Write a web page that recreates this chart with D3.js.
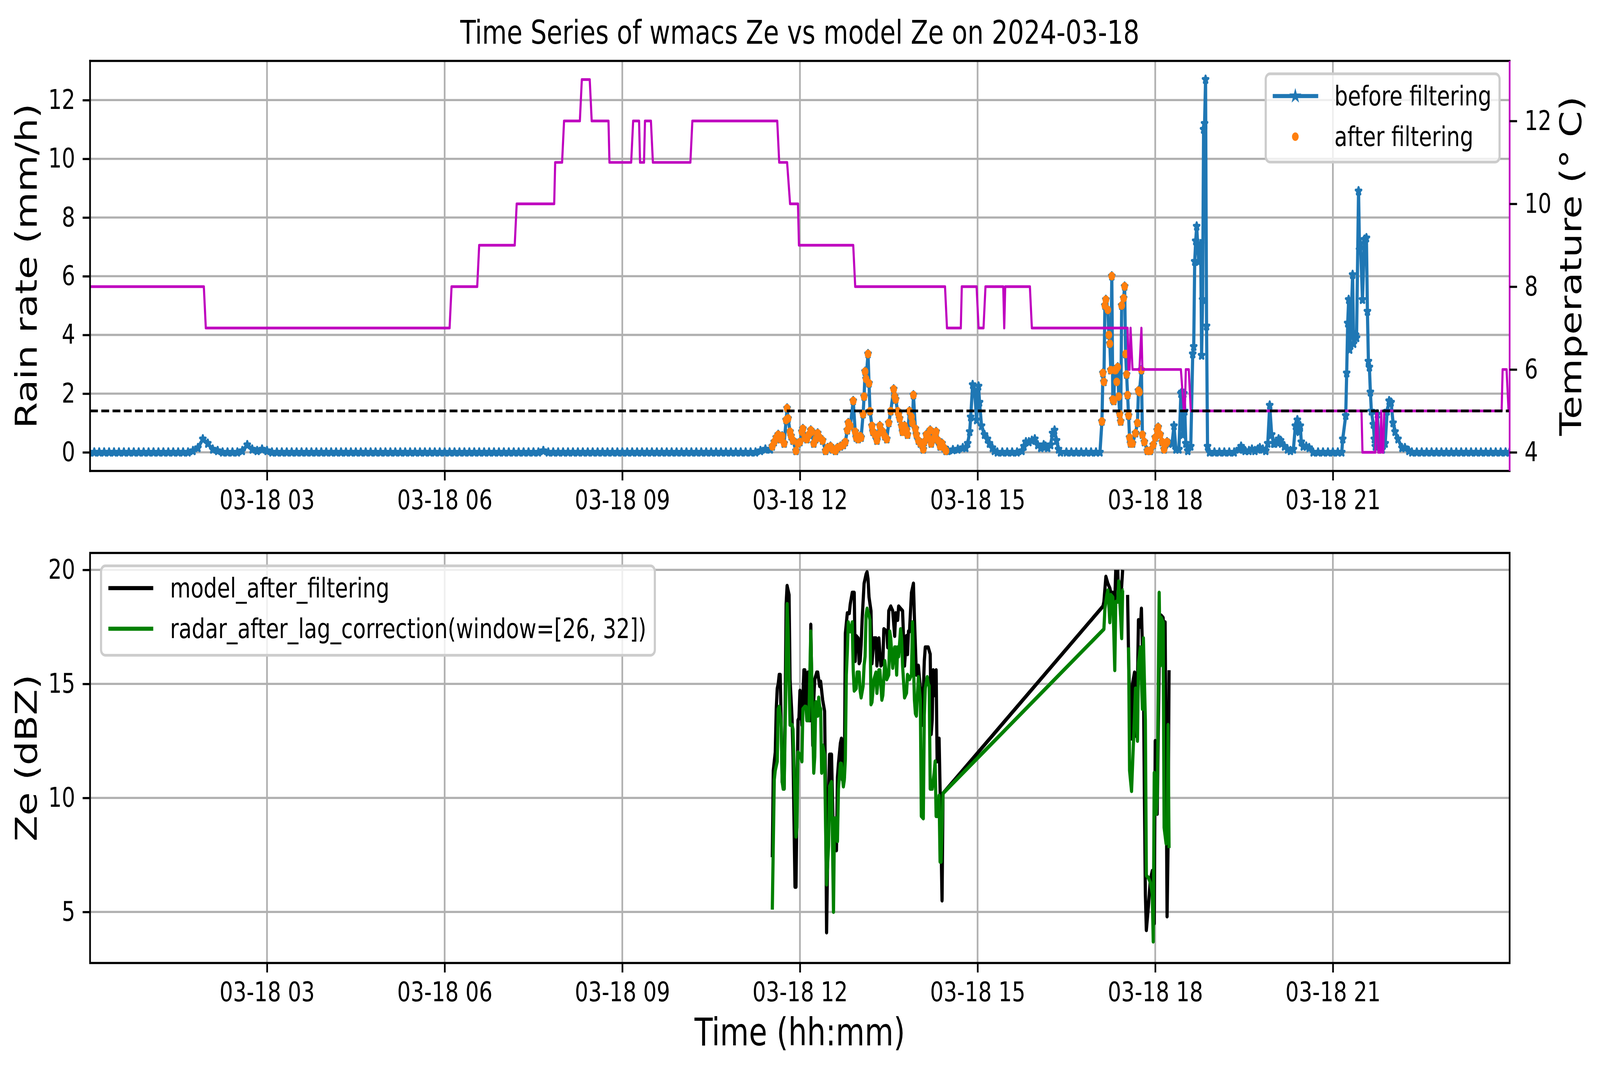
<!DOCTYPE html>
<html>
<head>
<meta charset="utf-8">
<script src="https://cdn.jsdelivr.net/npm/d3@7"></script>
<style>
  html, body { margin: 0; padding: 0; background: #fff; overflow: hidden; }
  svg { display: block; }
</style>
</head>
<body>
<div id="chart"></div>
<script>
const day = "2024-03-18";
const xStart = "00:00:43", xEnd = "23:59:06";

const xTicks = ["03:00", "06:00", "09:00", "12:00", "15:00", "18:00", "21:00"];
const rainTicks = [0, 2, 4, 6, 8, 10, 12];
const tempTicks = [4, 6, 8, 10, 12];
const zeTicks = [5, 10, 15, 20];

// rain rate (mm/h), one value every 5 minutes from 00:00 to 11:25
const rainEarlyStart = "00:00";
const rainEarly = [
  0, 0, 0, 0, 0, 0, 0, 0, 0, 0, 0, 0,
  0, 0, 0, 0, 0, 0, 0, 0, 0, 0.05, 0.15, 0.45,
  0.3, 0.1, 0.05, 0, 0, 0, 0, 0.05, 0.25, 0.1, 0.05, 0.1,
  0.05, 0, 0, 0, 0, 0, 0, 0, 0, 0, 0, 0,
  0, 0, 0, 0, 0, 0, 0, 0, 0, 0, 0, 0,
  0, 0, 0, 0, 0, 0, 0, 0, 0, 0, 0, 0,
  0, 0, 0, 0, 0, 0, 0, 0, 0, 0, 0, 0,
  0, 0, 0, 0, 0, 0, 0, 0, 0.05, 0, 0, 0,
  0, 0, 0, 0, 0, 0, 0, 0, 0, 0, 0, 0,
  0, 0, 0, 0, 0, 0, 0, 0, 0, 0, 0, 0,
  0, 0, 0, 0, 0, 0, 0, 0, 0, 0, 0, 0,
  0, 0, 0, 0, 0.05, 0.1
];

// rain rate (mm/h) from 11:30 on
const rainLate = [
  ["11:30", 0.1], ["11:32", 0.2], ["11:34", 0.35], ["11:36", 0.5], ["11:38", 0.6], ["11:40", 0.45],
  ["11:42", 0.55], ["11:44", 0.3], ["11:46", 1.1], ["11:47", 1.5], ["11:48", 1.15], ["11:50", 0.7],
  ["11:51", 0.55], ["11:53", 0.4], ["11:56", 0.05], ["11:58", 0.3], ["12:00", 0.35], ["12:02", 0.7],
  ["12:03", 0.8], ["12:05", 0.5], ["12:07", 0.45], ["12:09", 0.6], ["12:11", 0.75], ["12:12", 0.7],
  ["12:14", 0.3], ["12:16", 0.45], ["12:18", 0.65], ["12:20", 0.5], ["12:23", 0.4], ["12:26", 0.05],
  ["12:28", 0.15], ["12:31", 0.2], ["12:33", 0.1], ["12:36", 0.05], ["12:38", 0.15], ["12:41", 0.2],
  ["12:44", 0.25], ["12:46", 0.35], ["12:48", 0.75], ["12:49", 1.0], ["12:51", 0.9], ["12:54", 1.75],
  ["12:56", 0.7], ["12:57", 0.5], ["12:59", 0.45], ["13:01", 0.55], ["13:02", 0.5], ["13:04", 1.3],
  ["13:05", 1.9], ["13:06", 2.75], ["13:07", 2.5], ["13:09", 3.35], ["13:10", 2.35], ["13:11", 1.4],
  ["13:13", 0.9], ["13:14", 0.7], ["13:16", 0.6], ["13:18", 0.4], ["13:19", 0.6], ["13:21", 0.9],
  ["13:22", 0.7], ["13:24", 0.7], ["13:26", 0.55], ["13:28", 0.45], ["13:30", 1.0], ["13:32", 1.4],
  ["13:35", 2.15], ["13:36", 1.9], ["13:37", 1.8], ["13:39", 1.4], ["13:40", 1.3], ["13:41", 1.15],
  ["13:43", 0.9], ["13:44", 0.7], ["13:46", 0.9], ["13:48", 0.75], ["13:49", 0.6], ["13:51", 1.4],
  ["13:53", 1.2], ["13:54", 1.0], ["13:55", 1.95], ["13:57", 0.8], ["13:58", 0.6], ["14:00", 0.4],
  ["14:02", 0.3], ["14:05", 0.1], ["14:06", 0.35], ["14:08", 0.6], ["14:10", 0.5], ["14:12", 0.75],
  ["14:13", 0.3], ["14:15", 0.45], ["14:17", 0.6], ["14:18", 0.7], ["14:20", 0.4], ["14:22", 0.2],
  ["14:24", 0.3], ["14:26", 0.15], ["14:28", 0.05], ["14:30", 0.05], ["14:35", 0.08], ["14:40", 0.1],
  ["14:45", 0.15], ["14:48", 0.15], ["14:50", 0.3], ["14:52", 0.7], ["14:53", 1.2], ["14:55", 2.3],
  ["14:57", 2.1], ["14:59", 1.1], ["15:01", 2.25], ["15:02", 1.7], ["15:04", 0.9], ["15:07", 0.6],
  ["15:10", 0.45], ["15:12", 0.3], ["15:15", 0.15], ["15:17", 0.05], ["15:20", 0], ["15:25", 0],
  ["15:30", 0], ["15:35", 0], ["15:40", 0], ["15:45", 0.05], ["15:47", 0.2], ["15:49", 0.35],
  ["15:52", 0.35], ["15:55", 0.4], ["15:58", 0.45], ["16:01", 0.25], ["16:04", 0.15], ["16:07", 0.25],
  ["16:09", 0.2], ["16:11", 0.15], ["16:14", 0.25], ["16:16", 0.65], ["16:18", 0.75], ["16:20", 0.4],
  ["16:22", 0.1], ["16:24", 0], ["16:30", 0], ["16:35", 0], ["16:40", 0], ["16:45", 0],
  ["16:50", 0], ["16:55", 0], ["17:00", 0], ["17:04", 0], ["17:06", 1.05], ["17:07", 2.7],
  ["17:08", 2.4], ["17:09", 5.0], ["17:10", 5.2], ["17:12", 4.85], ["17:13", 4.0], ["17:14", 3.7],
  ["17:15", 2.8], ["17:16", 6.0], ["17:17", 1.8], ["17:18", 1.75], ["17:19", 2.8], ["17:20", 2.8],
  ["17:21", 2.4], ["17:22", 2.9], ["17:23", 1.9], ["17:24", 1.3], ["17:25", 1.05], ["17:26", 5.0],
  ["17:28", 5.25], ["17:29", 5.65], ["17:30", 3.35], ["17:31", 2.65], ["17:32", 1.95], ["17:33", 1.25],
  ["17:34", 0.5], ["17:35", 0.3], ["17:37", 0.3], ["17:40", 0.65], ["17:42", 1.0], ["17:43", 2.1],
  ["17:44", 2.05], ["17:46", 2.8], ["17:47", 0.6], ["17:49", 0.35], ["17:52", 0.05], ["17:55", 0.05],
  ["17:58", 0.25], ["18:00", 0.5], ["18:02", 0.75], ["18:03", 0.85], ["18:05", 0.6], ["18:07", 0.35],
  ["18:09", 0.1], ["18:11", 0.3], ["18:12", 0.35], ["18:14", 0.3], ["18:17", 0.3], ["18:19", 0.9],
  ["18:21", 0.1], ["18:24", 0.1], ["18:26", 2.0], ["18:27", 2.05], ["18:28", 0.6], ["18:29", 2.0],
  ["18:30", 1.4], ["18:31", 0.3], ["18:33", 0.05], ["18:36", 0.2], ["18:38", 3.35], ["18:39", 3.6],
  ["18:40", 6.5], ["18:41", 7.2], ["18:42", 7.7], ["18:44", 6.5], ["18:45", 7.0], ["18:46", 7.1],
  ["18:47", 3.3], ["18:48", 5.2], ["18:49", 11.0], ["18:50", 11.2], ["18:51", 12.7], ["18:52", 4.3],
  ["18:53", 0.2], ["18:55", 0], ["19:00", 0], ["19:05", 0], ["19:10", 0], ["19:15", 0],
  ["19:20", 0], ["19:25", 0.1], ["19:27", 0.2], ["19:29", 0.1], ["19:31", 0.05], ["19:35", 0.05],
  ["19:38", 0.1], ["19:41", 0.05], ["19:44", 0.1], ["19:46", 0.15], ["19:49", 0.1], ["19:52", 0.05],
  ["19:54", 0.3], ["19:56", 1.6], ["19:58", 0.6], ["20:00", 0.3], ["20:01", 0.3], ["20:03", 0.35],
  ["20:05", 0.45], ["20:07", 0.4], ["20:08", 0.3], ["20:11", 0.2], ["20:14", 0.1], ["20:17", 0.05],
  ["20:20", 0.1], ["20:22", 0.9], ["20:24", 1.1], ["20:25", 0.75], ["20:26", 0.7], ["20:27", 0.9],
  ["20:28", 0.35], ["20:30", 0.2], ["20:33", 0.2], ["20:36", 0.15], ["20:40", 0], ["20:45", 0],
  ["20:50", 0], ["20:55", 0], ["21:00", 0], ["21:05", 0], ["21:09", 0], ["21:10", 0.45],
  ["21:13", 1.25], ["21:14", 2.7], ["21:15", 4.4], ["21:16", 5.2], ["21:17", 3.5], ["21:18", 4.0],
  ["21:20", 6.05], ["21:21", 3.7], ["21:23", 4.0], ["21:24", 3.9], ["21:26", 8.9], ["21:27", 6.9],
  ["21:28", 7.1], ["21:30", 5.2], ["21:32", 7.25], ["21:34", 7.3], ["21:35", 4.8], ["21:36", 3.1],
  ["21:37", 2.9], ["21:38", 2.05], ["21:39", 1.4], ["21:41", 0.95], ["21:42", 0.45], ["21:43", 0.2],
  ["21:45", 1.3], ["21:47", 0.2], ["21:50", 0.1], ["21:53", 0.3], ["21:55", 1.4], ["21:57", 1.75],
  ["21:59", 1.7], ["22:01", 1.0], ["22:03", 0.7], ["22:06", 0.45], ["22:10", 0.15], ["22:13", 0.15],
  ["22:17", 0.05], ["22:20", 0], ["22:25", 0], ["22:30", 0], ["22:35", 0], ["22:40", 0],
  ["22:45", 0], ["22:50", 0], ["22:55", 0], ["23:00", 0], ["23:05", 0], ["23:10", 0],
  ["23:15", 0], ["23:20", 0], ["23:25", 0], ["23:30", 0], ["23:35", 0], ["23:40", 0],
  ["23:45", 0], ["23:50", 0], ["23:55", 0], ["23:59", 0]
];

// periods kept by the filter (orange points)
const filterWindows = [["11:32", "14:28"], ["17:06", "18:12"]];

// temperature (deg C)
const temperature = [
  ["00:00", 8], ["01:56", 8], ["01:58", 7], ["06:05", 7], ["06:07", 8], ["06:33", 8], ["06:35", 9],
  ["07:11", 9], ["07:13", 10], ["07:51", 10], ["07:52", 11], ["07:59", 11], ["08:01", 12],
  ["08:17", 12], ["08:19", 13], ["08:27", 13], ["08:29", 12], ["08:46", 12], ["08:47", 11],
  ["09:09", 11], ["09:11", 12], ["09:17", 12], ["09:18", 11], ["09:22", 11], ["09:23", 12],
  ["09:29", 12], ["09:31", 11], ["10:09", 11], ["10:11", 12], ["11:37", 12], ["11:39", 11],
  ["11:47", 11], ["11:50", 10], ["11:58", 10], ["11:59", 9], ["12:54", 9], ["12:56", 8],
  ["14:27", 8], ["14:29", 7], ["14:43", 7], ["14:44", 8], ["14:59", 8], ["15:01", 7],
  ["15:06", 7], ["15:08", 8], ["15:26", 8], ["15:27", 7], ["15:28", 8], ["15:53", 8],
  ["15:55", 7], ["17:32", 7], ["17:33", 6], ["17:34", 6], ["17:35", 7], ["17:37", 6],
  ["17:44", 6], ["17:46", 7], ["17:47", 6], ["18:26", 6], ["18:29", 5], ["18:30", 5],
  ["18:31", 6], ["18:34", 6], ["18:36", 5], ["21:29", 5], ["21:30", 4], ["21:43", 4],
  ["21:44", 5], ["21:45", 5], ["21:46", 4], ["21:48", 4], ["21:49", 5], ["21:50", 4],
  ["21:51", 4], ["21:52", 5], ["23:51", 5], ["23:52", 6], ["23:56", 6], ["23:58", 5], ["23:59", 5]
];
const tempReference = 5;

// Ze (dBZ), model after filtering
const modelZe = [
  ["11:32", 7.4], ["11:33", 11.2], ["11:34", 11.6], ["11:35", 12.0], ["11:36", 13.9], ["11:37", 14.8],
  ["11:38", 15.0], ["11:39", 15.4], ["11:40", 15.4], ["11:41", 13.3], ["11:42", 10.7], ["11:44", 10.4],
  ["11:45", 13.9], ["11:46", 18.5], ["11:47", 19.3], ["11:49", 18.9], ["11:50", 15.2], ["11:52", 13.5],
  ["11:53", 11.8], ["11:55", 6.1], ["11:56", 6.1], ["11:58", 13.4], ["11:59", 13.5], ["12:00", 14.7],
  ["12:02", 13.2], ["12:04", 15.6], ["12:05", 15.6], ["12:06", 14.1], ["12:08", 15.5], ["12:09", 14.0],
  ["12:10", 13.4], ["12:11", 17.6], ["12:13", 12.3], ["12:14", 14.3], ["12:15", 15.2], ["12:17", 15.5],
  ["12:18", 15.5], ["12:20", 14.9], ["12:21", 15.1], ["12:23", 14.3], ["12:25", 13.8], ["12:26", 10.2],
  ["12:27", 4.1], ["12:29", 10.2], ["12:30", 11.9], ["12:32", 11.9], ["12:34", 7.9], ["12:35", 7.8],
  ["12:37", 7.7], ["12:38", 10.9], ["12:39", 11.5], ["12:41", 12.4], ["12:42", 12.6], ["12:43", 10.8],
  ["12:45", 10.9], ["12:46", 17.2], ["12:48", 18.1], ["12:50", 18.1], ["12:51", 18.5], ["12:53", 19.0],
  ["12:55", 19.0], ["12:56", 16.0], ["12:57", 17.1], ["12:59", 17.0], ["13:00", 15.9], ["13:01", 16.0],
  ["13:02", 16.7], ["13:03", 17.8], ["13:05", 19.4], ["13:07", 19.8], ["13:08", 19.9], ["13:09", 19.6],
  ["13:10", 18.8], ["13:12", 18.2], ["13:13", 15.9], ["13:15", 17.0], ["13:17", 17.0], ["13:18", 15.8],
  ["13:20", 17.0], ["13:22", 15.8], ["13:24", 15.9], ["13:25", 17.4], ["13:28", 17.3], ["13:29", 16.6],
  ["13:30", 18.2], ["13:32", 18.4], ["13:34", 18.2], ["13:36", 17.1], ["13:37", 18.1], ["13:39", 17.8],
  ["13:40", 18.4], ["13:42", 18.3], ["13:44", 18.2], ["13:46", 15.8], ["13:48", 17.1], ["13:49", 16.3],
  ["13:50", 17.3], ["13:51", 17.3], ["13:53", 19.0], ["13:55", 19.4], ["13:56", 17.9], ["13:58", 15.4],
  ["14:00", 15.8], ["14:02", 14.8], ["14:04", 13.2], ["14:06", 16.0], ["14:07", 16.6], ["14:10", 16.6],
  ["14:12", 16.3], ["14:13", 12.8], ["14:14", 13.4], ["14:15", 15.6], ["14:16", 14.5], ["14:18", 15.6],
  ["14:19", 11.6], ["14:21", 12.6], ["14:22", 10.4], ["14:24", 5.5], ["14:25", 10.2],
  ["17:07", 18.4], ["17:08", 18.6], ["17:10", 19.7], ["17:12", 19.4], ["17:14", 19.2], ["17:15", 19.0],
  ["17:17", 19.0], ["17:19", 18.6], ["17:20", 20.0], ["17:21", null], ["17:22", 20.0], ["17:23", 18.6],
  ["17:25", 18.6], ["17:27", 20.0], ["17:28", null], ["17:32", 18.9], ["17:33", 16.2], ["17:35", 12.7],
  ["17:36", 12.6], ["17:37", 15.0], ["17:39", 15.5], ["17:41", 12.7], ["17:42", 15.0], ["17:43", 17.8],
  ["17:45", 17.5], ["17:46", 18.3], ["17:47", 16.6], ["17:48", 15.4], ["17:49", 10.2], ["17:50", 5.8],
  ["17:51", 4.2], ["17:53", 5.2], ["17:55", 6.4], ["17:57", 6.8], ["17:59", 4.5], ["18:00", 12.5],
  ["18:01", 9.9], ["18:02", 9.3], ["18:03", 12.7], ["18:04", 15.8], ["18:06", 18.0], ["18:08", 17.9],
  ["18:09", 16.9], ["18:10", 17.7], ["18:11", 11.8], ["18:12", 4.8], ["18:13", 7.9], ["18:14", 15.6]
];

// Ze (dBZ), radar after lag correction
const radarZe = [
  ["11:32", 5.1], ["11:34", 10.8], ["11:35", 11.2], ["11:37", 11.6], ["11:38", 13.9], ["11:39", 14.0],
  ["11:41", 13.3], ["11:42", 10.7], ["11:43", 10.4], ["11:44", 10.4], ["11:46", 15.6], ["11:47", 18.5],
  ["11:48", 17.3], ["11:50", 13.2], ["11:52", 13.2], ["11:53", 13.0], ["11:55", 9.9], ["11:56", 8.3],
  ["11:57", 8.7], ["11:58", 12.0], ["12:00", 11.9], ["12:02", 11.6], ["12:03", 13.9], ["12:05", 14.0],
  ["12:06", 14.0], ["12:07", 13.4], ["12:09", 13.4], ["12:11", 17.3], ["12:14", 11.1], ["12:15", 11.8],
  ["12:16", 14.2], ["12:18", 13.6], ["12:19", 14.4], ["12:20", 14.0], ["12:21", 13.9], ["12:22", 11.1],
  ["12:23", 12.3], ["12:25", 11.9], ["12:26", 8.7], ["12:27", 6.2], ["12:29", 7.9], ["12:30", 10.5],
  ["12:32", 10.7], ["12:33", 8.1], ["12:34", 5.0], ["12:35", 9.1], ["12:37", 9.1], ["12:38", 8.1],
  ["12:39", 10.4], ["12:41", 11.5], ["12:42", 11.5], ["12:44", 10.5], ["12:45", 10.8], ["12:46", 11.7],
  ["12:47", 15.4], ["12:48", 16.4], ["12:49", 17.7], ["12:51", 17.3], ["12:52", 17.3], ["12:53", 17.7],
  ["12:54", 15.6], ["12:55", 14.7], ["12:57", 14.8], ["12:58", 15.5], ["13:00", 15.5], ["13:01", 14.7],
  ["13:02", 14.4], ["13:04", 14.9], ["13:05", 15.8], ["13:06", 16.2], ["13:07", 18.0], ["13:08", 18.3],
  ["13:10", 18.0], ["13:11", 17.8], ["13:12", 14.1], ["13:13", 14.2], ["13:15", 15.2], ["13:17", 15.5],
  ["13:18", 14.6], ["13:20", 15.6], ["13:21", 15.6], ["13:23", 14.3], ["13:24", 14.5], ["13:26", 16.0],
  ["13:28", 15.2], ["13:30", 15.4], ["13:31", 17.3], ["13:32", 17.0], ["13:34", 15.7], ["13:36", 16.6],
  ["13:37", 16.6], ["13:38", 15.4], ["13:39", 16.6], ["13:40", 16.2], ["13:42", 17.4], ["13:43", 17.0],
  ["13:44", 15.8], ["13:46", 14.4], ["13:48", 14.6], ["13:49", 15.4], ["13:51", 15.2], ["13:53", 15.4],
  ["13:54", 17.7], ["13:56", 14.3], ["13:57", 13.7], ["13:58", 13.6], ["14:00", 15.3], ["14:02", 14.3],
  ["14:03", 9.2], ["14:05", 9.1], ["14:06", 13.6], ["14:07", 14.8], ["14:09", 15.3], ["14:10", 15.0],
  ["14:11", 14.9], ["14:12", 10.4], ["14:14", 10.4], ["14:16", 11.1], ["14:17", 11.6], ["14:18", 9.2],
  ["14:20", 9.2], ["14:21", 10.1], ["14:22", 7.2], ["14:23", 7.2], ["14:25", 10.2],
  ["17:08", 17.4], ["17:09", 18.3], ["17:11", 18.9], ["17:12", 19.1], ["17:13", 18.5], ["17:14", 17.7],
  ["17:15", 18.9], ["17:17", 18.8], ["17:18", 17.3], ["17:19", 15.6], ["17:20", 18.6], ["17:22", 18.6],
  ["17:23", 19.5], ["17:25", 17.9], ["17:26", 17.0], ["17:27", 19.1], ["17:28", 19.1], ["17:30", null],
  ["17:33", 16.6], ["17:34", 11.2], ["17:36", 10.3], ["17:38", 12.5], ["17:40", 14.8], ["17:42", 12.5],
  ["17:43", 15.9], ["17:45", 16.6], ["17:47", 13.9], ["17:48", 17.0], ["17:50", 13.4], ["17:51", 6.6],
  ["17:53", 6.5], ["17:55", 6.3], ["17:57", 5.8], ["17:58", 3.7], ["17:59", 11.1], ["18:01", 9.3],
  ["18:02", 10.0], ["18:04", 19.0], ["18:05", 15.8], ["18:06", 17.9], ["18:08", 17.7], ["18:09", 8.7],
  ["18:11", 8.0], ["18:12", 8.1], ["18:13", 13.2], ["18:14", 7.8]
];

// ---- layout (drawn in a 5241 x 2740 frame, fitted to the window) ----
const W = 5241, H = 2740;
const pt = 500 / 72;
const left = 295, right = 4945;
const top1 = 156, bot1 = 1206, top2 = 1416, bot2 = 2466;
const font = "DejaVu Sans";
const tickFont = 10 * pt, labelFont = 14 * pt, titleFont = 12 * pt;
const blue = "#1f77b4", orange = "#ff7f0e", magenta = "#bf00bf", green = "#008000";

const parse = d3.timeParse("%Y-%m-%d %H:%M:%S");
const at = s => parse(day + " " + (s.length === 5 ? s + ":00" : s));

const rain = rainEarly.map((v, i) => ({ t: d3.timeMinute.offset(at(rainEarlyStart), i * 5), v: v }))
  .concat(rainLate.map(d => ({ t: at(d[0]), v: d[1] })));
const afterFilter = rain.filter(d => filterWindows.some(w => d.t >= at(w[0]) && d.t <= at(w[1])));
const temp = temperature.map(d => ({ t: at(d[0]), v: d[1] }));
const model = modelZe.map(d => ({ t: at(d[0]), v: d[1] }));
const radar = radarZe.map(d => ({ t: at(d[0]), v: d[1] }));

const x = d3.scaleTime().domain([at(xStart), at(xEnd)]).range([left, right]);
const yRain = d3.scaleLinear().domain([-0.635, 13.335]).range([bot1, top1]);
const yTemp = d3.scaleLinear().domain([3.55, 13.45]).range([bot1, top1]);
const yZe = d3.scaleLinear().domain([2.76, 20.74]).range([bot2, top2]);

const svg = d3.select("#chart").append("svg")
  .attr("width", window.innerWidth).attr("height", window.innerHeight)
  .attr("viewBox", `0 0 ${W} ${H}`)
  .attr("preserveAspectRatio", "none")
  .attr("font-family", font);
svg.append("rect").attr("width", W).attr("height", H).attr("fill", "#fff");

const defs = svg.append("defs");
defs.append("clipPath").attr("id", "clip1").append("rect")
  .attr("x", left).attr("y", top1).attr("width", right - left).attr("height", bot1 - top1);
defs.append("clipPath").attr("id", "clip2").append("rect")
  .attr("x", left).attr("y", top2).attr("width", right - left).attr("height", bot2 - top2);

function grid(g, yScale, yVals, y0, y1) {
  g.selectAll(".gx").data(xTicks).enter().append("line")
    .attr("x1", d => x(at(d))).attr("x2", d => x(at(d)))
    .attr("y1", y0).attr("y2", y1)
    .attr("stroke", "#b0b0b0").attr("stroke-width", 0.8 * pt);
  g.selectAll(".gy").data(yVals).enter().append("line")
    .attr("x1", left).attr("x2", right)
    .attr("y1", d => yScale(d)).attr("y2", d => yScale(d))
    .attr("stroke", "#b0b0b0").attr("stroke-width", 0.8 * pt);
}

function styleAxis(g) {
  g.select(".domain").remove();
  g.attr("font-size", tickFont).attr("font-family", font);
  g.selectAll(".tick line").attr("stroke", "#000").attr("stroke-width", 0.8 * pt);
  g.selectAll(".tick text").attr("fill", "#000");
}

function xAxis(y) {
  svg.append("g").attr("transform", `translate(0,${y})`)
    .call(d3.axisBottom(x).tickValues(xTicks.map(at)).tickFormat(d3.timeFormat("%m-%d %H"))
      .tickSize(3.5 * pt).tickPadding(3.5 * pt))
    .call(styleAxis);
}

// ---------- top panel ----------
const p1 = svg.append("g");
grid(p1, yRain, rainTicks, top1, bot1);

const rainLine = d3.line().x(d => x(d.t)).y(d => yRain(d.v));
const c1 = p1.append("g").attr("clip-path", "url(#clip1)");
c1.append("path").datum(rain)
  .attr("d", rainLine).attr("fill", "none")
  .attr("stroke", blue).attr("stroke-width", 1.5 * pt).attr("stroke-linejoin", "round");
const star = d3.symbol().type(d3.symbolStar).size(100);
c1.selectAll(".star").data(rain).enter().append("path")
  .attr("d", star)
  .attr("transform", d => `translate(${x(d.t)},${yRain(d.v)})`)
  .attr("fill", blue).attr("stroke", blue).attr("stroke-width", 1 * pt).attr("stroke-linejoin", "round");
c1.selectAll(".dot").data(afterFilter).enter().append("circle")
  .attr("cx", d => x(d.t)).attr("cy", d => yRain(d.v)).attr("r", 11)
  .attr("fill", orange);

// legend (top)
const lg1 = p1.append("g");
lg1.append("rect").attr("x", 4146).attr("y", 189).attr("width", 766).attr("height", 226)
  .attr("rx", 14).attr("fill", "#fff").attr("fill-opacity", 0.8)
  .attr("stroke", "#cccccc").attr("stroke-width", 1 * pt);
lg1.append("line").attr("x1", 4169).attr("x2", 4318).attr("y1", 246).attr("y2", 246)
  .attr("stroke", blue).attr("stroke-width", 1.5 * pt);
lg1.append("path").attr("d", star).attr("transform", "translate(4243,246)")
  .attr("fill", blue).attr("stroke", blue).attr("stroke-width", 1 * pt);
lg1.append("circle").attr("cx", 4243).attr("cy", 350).attr("r", 11).attr("fill", orange);
lg1.selectAll("text").data(["before filtering", "after filtering"]).enter().append("text")
  .attr("x", 4371).attr("y", (d, i) => 246 + i * 104)
  .attr("dominant-baseline", "central")
  .attr("font-size", tickFont).text(d => d);

// temperature on twin axis
const tempLine = d3.line().x(d => x(d.t)).y(d => yTemp(d.v));
const c1b = svg.append("g").attr("clip-path", "url(#clip1)");
c1b.append("path").datum(temp)
  .attr("d", tempLine).attr("fill", "none")
  .attr("stroke", magenta).attr("stroke-width", 1 * pt).attr("stroke-linejoin", "round");
c1b.append("line")
  .attr("x1", left).attr("x2", right)
  .attr("y1", yTemp(tempReference)).attr("y2", yTemp(tempReference))
  .attr("stroke", "#000").attr("stroke-width", 1 * pt)
  .attr("stroke-dasharray", `${3.7 * pt},${1.6 * pt}`);

// spines and axes (top)
[[left, top1, right, top1], [left, bot1, right, bot1], [left, top1, left, bot1]].forEach(s => {
  svg.append("line").attr("x1", s[0]).attr("y1", s[1]).attr("x2", s[2]).attr("y2", s[3])
    .attr("stroke", "#000").attr("stroke-width", 0.8 * pt).attr("stroke-linecap", "square");
});
svg.append("line").attr("x1", right).attr("y1", top1).attr("x2", right).attr("y2", bot1)
  .attr("stroke", magenta).attr("stroke-width", 0.8 * pt);

xAxis(bot1);
svg.append("g").attr("transform", `translate(${left},0)`)
  .call(d3.axisLeft(yRain).tickValues(rainTicks).tickSize(3.5 * pt).tickPadding(3.5 * pt))
  .call(styleAxis);
svg.append("g").attr("transform", `translate(${right},0)`)
  .call(d3.axisRight(yTemp).tickValues(tempTicks).tickSize(3.5 * pt).tickPadding(3.5 * pt))
  .call(styleAxis);

svg.append("text").attr("x", (left + right) / 2).attr("y", 112)
  .attr("text-anchor", "middle").attr("font-size", titleFont)
  .text("Time Series of wmacs Ze vs model Ze on 2024-03-18");
svg.append("text").attr("transform", `translate(120,${(top1 + bot1) / 2}) rotate(-90)`)
  .attr("text-anchor", "middle").attr("font-size", labelFont).text("Rain rate (mm/h)");
svg.append("text").attr("transform", `translate(5179,${(top1 + bot1) / 2}) rotate(-90)`)
  .attr("text-anchor", "middle").attr("font-size", labelFont).text("Temperature (° C)");

// ---------- bottom panel ----------
const p2 = svg.append("g");
grid(p2, yZe, zeTicks, top2, bot2);
const zeLine = d3.line().defined(d => d.v !== null).x(d => x(d.t)).y(d => yZe(d.v));
const c2 = p2.append("g").attr("clip-path", "url(#clip2)");
c2.append("path").datum(model).attr("d", zeLine).attr("fill", "none")
  .attr("stroke", "#000").attr("stroke-width", 1.5 * pt).attr("stroke-linejoin", "round");
c2.append("path").datum(radar).attr("d", zeLine).attr("fill", "none")
  .attr("stroke", green).attr("stroke-width", 1.5 * pt).attr("stroke-linejoin", "round");

const lg2 = p2.append("g");
lg2.append("rect").attr("x", 331).attr("y", 1449).attr("width", 1814).attr("height", 229)
  .attr("rx", 14).attr("fill", "#fff").attr("fill-opacity", 0.8)
  .attr("stroke", "#cccccc").attr("stroke-width", 1 * pt);
const legend2 = [["model_after_filtering", "#000"], ["radar_after_lag_correction(window=[26, 32])", green]];
legend2.forEach((d, i) => {
  const yy = 1506 + i * 104;
  lg2.append("line").attr("x1", 355).attr("x2", 502).attr("y1", yy).attr("y2", yy)
    .attr("stroke", d[1]).attr("stroke-width", 1.5 * pt);
  lg2.append("text").attr("x", 557).attr("y", yy).attr("dominant-baseline", "central")
    .attr("font-size", tickFont).text(d[0]);
});

svg.append("rect").attr("x", left).attr("y", top2).attr("width", right - left).attr("height", bot2 - top2)
  .attr("fill", "none").attr("stroke", "#000").attr("stroke-width", 0.8 * pt);
xAxis(bot2);
svg.append("g").attr("transform", `translate(${left},0)`)
  .call(d3.axisLeft(yZe).tickValues(zeTicks).tickSize(3.5 * pt).tickPadding(3.5 * pt))
  .call(styleAxis);

svg.append("text").attr("transform", `translate(120,${(top2 + bot2) / 2}) rotate(-90)`)
  .attr("text-anchor", "middle").attr("font-size", labelFont).text("Ze (dBZ)");
svg.append("text").attr("x", (left + right) / 2).attr("y", 2677)
  .attr("text-anchor", "middle").attr("font-size", labelFont).text("Time (hh:mm)");
</script>
</body>
</html>
